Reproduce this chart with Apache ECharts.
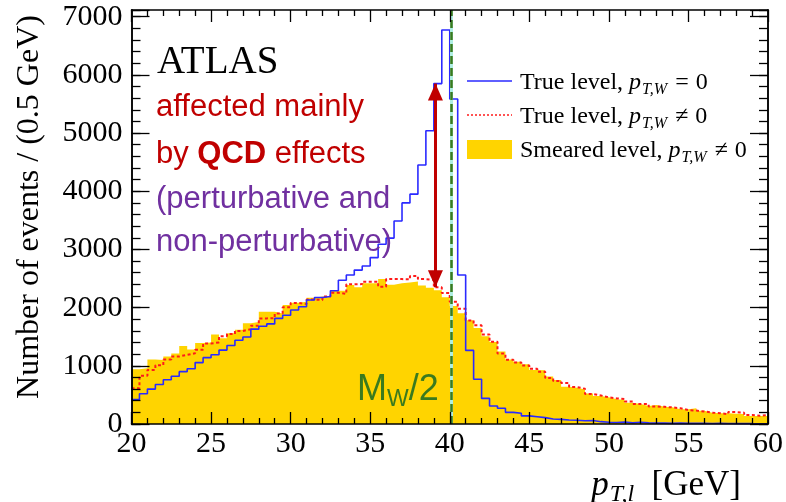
<!DOCTYPE html>
<html>
<head>
<meta charset="utf-8">
<script src="https://cdn.jsdelivr.net/npm/echarts@6/dist/echarts.min.js"></script>
<style>
  html, body { margin: 0; padding: 0; background: #ffffff; }
  #chart { width: 786px; height: 502px; }
</style>
</head>
<body>
<div id="chart"></div>
<script>
// Histogram binning in lepton pT (GeV)
const binStart = 20;
const binWidth = 0.5;

// True level, pT,W = 0 (Jacobian peak at MW/2)
const trueNoPtW = [
  420, 520, 600, 680, 760, 820, 900, 950, 1055, 1140,
  1190, 1270, 1350, 1440, 1495, 1630, 1680, 1720, 1815, 1870,
  1960, 2015, 2130, 2175, 2190, 2290, 2470, 2560, 2645, 2715,
  2860, 3090, 3195, 3490, 3800, 3950, 4450, 5040, 5850, 6770,
  5585, 2560, 1265, 770, 440, 310, 270, 200, 185, 140,
  125, 110, 85, 80, 70, 65, 55, 60, 40, 30,
  25, 35, 20, 30, 20, 15, 15, 10, 15, 10,
  10, 10, 8, 10, 8, 6, 8, 6, 5, 5
];

// True level, pT,W != 0
const trueWithPtW = [
  615, 830, 930, 1010, 1110, 1160, 1190, 1215, 1275, 1385,
  1400, 1510, 1545, 1600, 1630, 1690, 1815, 1820, 1900, 2005,
  2080, 2060, 2140, 2130, 2190, 2255, 2235, 2400, 2405, 2445,
  2445, 2360, 2490, 2490, 2485, 2545, 2490, 2480, 2350, 2250,
  2100, 1980, 1780, 1695, 1540, 1415, 1210, 1105, 1055, 1005,
  950, 900, 790, 740, 705, 635, 605, 515, 490, 458,
  440, 430, 385, 345, 345, 300, 295, 285, 270, 240,
  230, 215, 195, 185, 170, 205, 195, 155, 140, 155
];

// Smeared level, pT,W != 0
const smearedWithPtW = [
  940, 960, 1110, 1100, 1160, 1210, 1340, 1280, 1390, 1400,
  1540, 1475, 1560, 1620, 1730, 1755, 1930, 1930, 1900, 2045,
  2085, 2100, 2170, 2190, 2190, 2290, 2290, 2390, 2350, 2420,
  2420, 2490, 2395, 2420, 2430, 2450, 2380, 2340, 2300, 2180,
  2030, 1905, 1785, 1650, 1510, 1410, 1245, 1110, 1070, 1025,
  930, 925, 815, 755, 640, 625, 595, 525, 480, 458,
  424, 412, 366, 344, 310, 326, 297, 286, 252, 252,
  269, 229, 195, 183, 183, 175, 172, 137, 137, 137
];

// Axis ranges and tick spacing
const xRange = [20, 60];
const xMajor = 5;
const yRange = [0, 7115];
const yMajor = 1000;
const yMinor = 200;

// Reference markers
const halfWMass = 40.1;      // MW/2 line
const arrowX = 39.1;         // position of the QCD-effect arrow
const arrowBin = 38;         // bin whose two levels the arrow connects

const nBins = trueNoPtW.length;
const edges = Array.from({ length: nBins + 1 }, (_, i) => binStart + i * binWidth);

// Step-line points: left edge of each bin, plus the closing right edge
function stepPoints(values) {
  const pts = values.map((v, i) => [edges[i], v]);
  pts.push([edges[nBins], values[nBins - 1]]);
  return pts;
}

const serif = '"Liberation Serif", "Times New Roman", serif';
const sans = '"Liberation Sans", Arial, sans-serif';
const black = '#000000';

const frameLine = { show: true, onZero: false, lineStyle: { color: black, width: 1.5 } };

function xAxisSpec(position, showLabels) {
  return {
    type: 'value', position: position, min: xRange[0], max: xRange[1], interval: xMajor,
    axisLine: frameLine,
    axisTick: { show: true, inside: true, length: 12, lineStyle: { color: black, width: 1.3 } },
    minorTick: { show: true, splitNumber: 5, length: 6, lineStyle: { color: black, width: 1.3 } },
    axisLabel: { show: showLabels, fontFamily: serif, fontSize: 30, color: black, margin: 5 },
    splitLine: { show: false }, minorSplitLine: { show: false },
    z: 10
  };
}

function yAxisSpec(position, step, tickLen, showLabels) {
  return {
    type: 'value', position: position, min: yRange[0], max: yRange[1], interval: step,
    axisLine: frameLine,
    axisTick: { show: true, inside: true, length: tickLen, lineStyle: { color: black, width: 1.3 } },
    axisLabel: {
      show: showLabels, fontFamily: serif, fontSize: 30, color: black, margin: 9,
      formatter: v => (v % yMajor === 0 ? String(v) : '')
    },
    splitLine: { show: false },
    z: 10
  };
}

const legendRich = {
  r: { fontFamily: serif, fontSize: 24, fill: black, lineHeight: 30, verticalAlign: 'middle' },
  i: { fontFamily: serif, fontSize: 24, fontStyle: 'italic', fill: black, lineHeight: 30, verticalAlign: 'middle' },
  o: { fontFamily: serif, fontSize: 24, fill: black, lineHeight: 30, verticalAlign: 'middle', padding: [0, 7, 0, 8] },
  s: { fontFamily: serif, fontSize: 16, fontStyle: 'italic', fill: black, lineHeight: 16, verticalAlign: 'bottom',
       padding: [0, 0, 0, 1] }
};

const legendX0 = 467, legendX1 = 512, legendTextX = 520;
const legendRows = [83, 117, 151];

const chart = echarts.init(document.getElementById('chart'), null, { renderer: 'canvas' });

chart.setOption({
  animation: false,
  backgroundColor: '#ffffff',
  grid: { left: 131.5, right: 14.5, top: 10, bottom: 78, containLabel: false },
  xAxis: [xAxisSpec('bottom', true), xAxisSpec('top', false)],
  yAxis: [
    yAxisSpec('left', yMajor, 18, true),
    yAxisSpec('left', yMinor, 9, false),
    yAxisSpec('right', yMajor, 18, false),
    yAxisSpec('right', yMinor, 9, false)
  ],
  series: [
    {
      name: 'Smeared level',
      type: 'line', step: 'end', data: stepPoints(smearedWithPtW),
      showSymbol: false, symbol: 'none',
      lineStyle: { width: 0, color: '#FFD400' },
      areaStyle: { color: '#FFD400', opacity: 1 },
      z: 1, silent: true
    },
    {
      name: 'True level, pT,W != 0',
      type: 'line', step: 'end', data: stepPoints(trueWithPtW),
      showSymbol: false, symbol: 'none',
      lineStyle: { color: '#ff1a1a', width: 2, type: [3, 2.5] },
      z: 2, silent: true
    },
    {
      name: 'True level, pT,W = 0',
      type: 'line', step: 'end', data: stepPoints(trueNoPtW),
      showSymbol: false, symbol: 'none',
      lineStyle: { color: '#2a2aff', width: 1.6 },
      z: 3, silent: true,
      markLine: {
        silent: true, animation: false,
        label: { show: false },
        data: [
          [
            { coord: [arrowX, trueNoPtW[arrowBin]], symbol: 'triangle', symbolSize: [15, 17], symbolOffset: [0, '50%'] },
            { coord: [arrowX, trueWithPtW[arrowBin]], symbol: 'triangle', symbolSize: [15, 17], symbolOffset: [0, '50%'] }
          ]
        ],
        lineStyle: { color: '#c00000', width: 3, type: 'solid' },
        itemStyle: { color: '#c00000' }
      }
    },
    {
      name: 'MW/2',
      type: 'line', data: [], silent: true,
      markLine: {
        silent: true, animation: false, symbol: 'none',
        label: { show: false },
        data: [
          { xAxis: halfWMass, lineStyle: { color: '#aeeee2', width: 3, type: 'solid' } },
          { xAxis: halfWMass, lineStyle: { color: '#3a7a1e', width: 2.5, type: [8, 4] } }
        ]
      }
    }
  ],
  graphic: [
    // ATLAS label and annotation
    { type: 'text', x: 157, y: 63, z: 20,
      style: { text: 'ATLAS', font: '39px ' + serif, fill: black, verticalAlign: 'middle' } },
    { type: 'text', x: 156, y: 107, z: 20,
      style: { text: 'affected mainly', font: '31px ' + sans, fill: '#c00000', verticalAlign: 'middle' } },
    { type: 'text', x: 156, y: 154, z: 20,
      style: {
        text: '{n|by }{b|QCD}{n| effects}', verticalAlign: 'middle',
        rich: {
          n: { fontFamily: sans, fontSize: 31, fill: '#c00000' },
          b: { fontFamily: sans, fontSize: 31, fontWeight: 'bold', fill: '#c00000' }
        }
      } },
    { type: 'text', x: 156, y: 199, z: 20,
      style: { text: '(perturbative and', font: '31px ' + sans, fill: '#7030a0', verticalAlign: 'middle' } },
    { type: 'text', x: 156, y: 242, z: 20,
      style: { text: 'non-perturbative)', font: '31px ' + sans, fill: '#7030a0', verticalAlign: 'middle' } },

    // MW/2 label
    { type: 'text', x: 357, y: 390, z: 20,
      style: {
        text: '{m|M}{s|W}{m|/2}', verticalAlign: 'middle',
        rich: {
          m: { fontFamily: sans, fontSize: 36, fill: '#3a7a1e', lineHeight: 42, verticalAlign: 'middle' },
          s: { fontFamily: sans, fontSize: 23, fill: '#3a7a1e', lineHeight: 23, verticalAlign: 'bottom' }
        }
      } },

    // Legend
    { type: 'line', z: 20, shape: { x1: legendX0, y1: legendRows[0] - 2, x2: legendX1, y2: legendRows[0] - 2 },
      style: { stroke: '#2a2aff', lineWidth: 1.6 } },
    { type: 'line', z: 20, shape: { x1: legendX0, y1: legendRows[1] - 2, x2: legendX1, y2: legendRows[1] - 2 },
      style: { stroke: '#ff1a1a', lineWidth: 1.5, lineDash: [2, 2] } },
    { type: 'rect', z: 20, shape: { x: legendX0, y: legendRows[2] - 11, width: legendX1 - legendX0, height: 19 },
      style: { fill: '#FFD400' } },
    { type: 'text', x: legendTextX, y: legendRows[0], z: 20,
      style: { text: '{r|True level, }{i|p}{s|T,W}{o|=}{r|0}', verticalAlign: 'middle', rich: legendRich } },
    { type: 'text', x: legendTextX, y: legendRows[1], z: 20,
      style: { text: '{r|True level, }{i|p}{s|T,W}{o|\u2260}{r|0}', verticalAlign: 'middle', rich: legendRich } },
    { type: 'text', x: legendTextX, y: legendRows[2], z: 20,
      style: { text: '{r|Smeared level, }{i|p}{s|T,W}{o|\u2260}{r|0}', verticalAlign: 'middle', rich: legendRich } },

    // Axis titles
    { type: 'text', x: 741, y: 486, z: 20,
      style: {
        text: '{i|p}{s|T,l}{r|  [GeV]}', align: 'right', verticalAlign: 'middle',
        rich: {
          r: { fontFamily: serif, fontSize: 35, fill: black, lineHeight: 42, verticalAlign: 'middle' },
          i: { fontFamily: serif, fontSize: 35, fontStyle: 'italic', fill: black, lineHeight: 42, verticalAlign: 'middle' },
          s: { fontFamily: serif, fontSize: 24, fontStyle: 'italic', fill: black, lineHeight: 24, verticalAlign: 'bottom',
               padding: [0, 0, 0, 1] }
        }
      } },
    { type: 'text', x: 30, y: 207, z: 20, rotation: Math.PI / 2,
      style: { text: 'Number of events / (0.5 GeV)', font: '32px ' + serif, fill: black,
               align: 'center', verticalAlign: 'middle' } }
  ]
});
</script>
</body>
</html>
